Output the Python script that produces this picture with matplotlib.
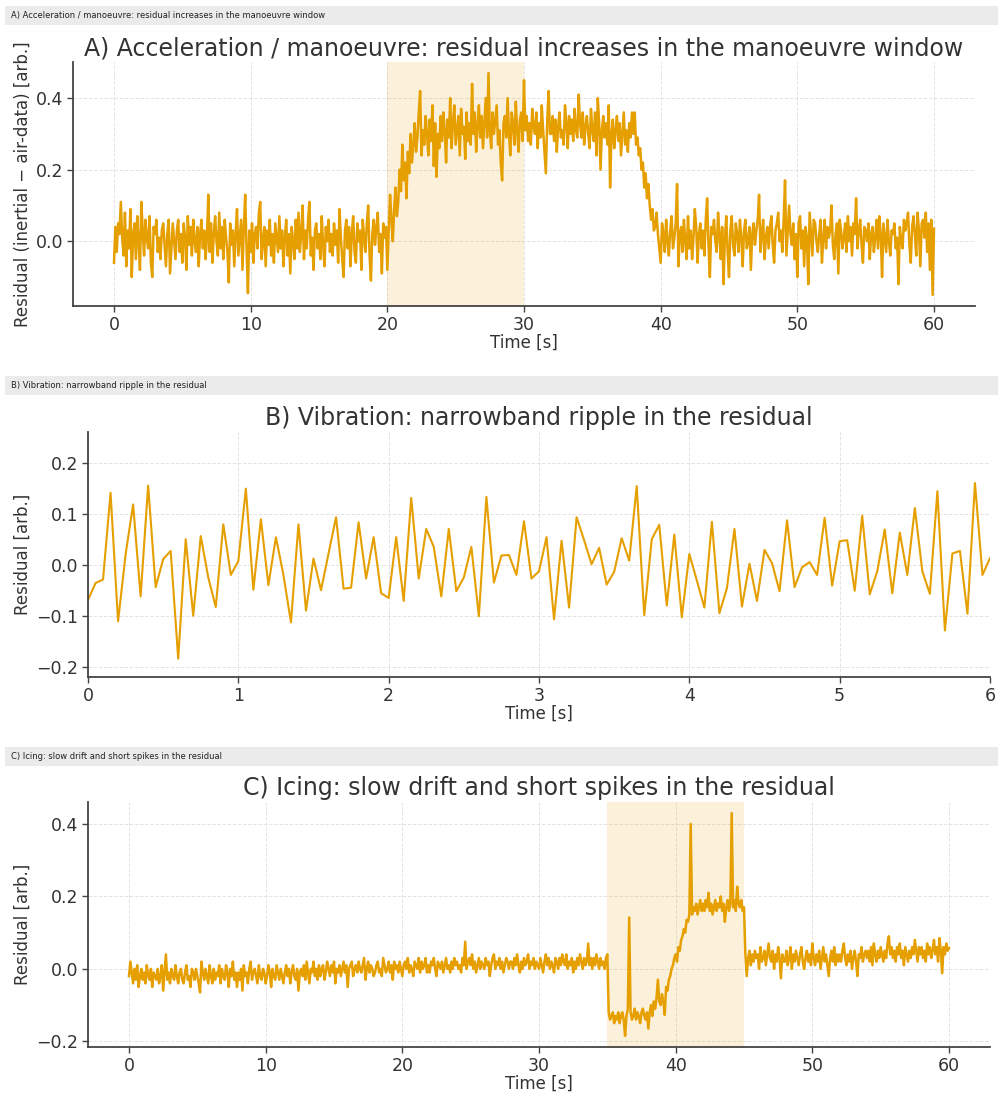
import numpy as np
import matplotlib
matplotlib.use("Agg")
import matplotlib.pyplot as plt
from matplotlib.patches import Rectangle

# ---- data ----
# panel A: 0..60 s, every 0.1 s (one row = 2 s)
res_a = [
    -0.06, 0.04, -0.03, 0.05, 0.02, 0.11, 0.01, -0.04, 0.08, -0.07, 0.03, -0.02, 0.09, -0.10, 0.02, 0.05, -0.05, 0.07, 0.00, -0.08,
    0.11, 0.03, -0.04, 0.06, 0.01, -0.02, 0.07, -0.06, -0.10, 0.04, 0.02, 0.06, -0.03, 0.01, -0.05, 0.03, 0.05, -0.01, -0.07, 0.02,
    0.06, -0.09, -0.02, 0.05, 0.00, -0.05, 0.03, 0.06, -0.03, 0.02, -0.06, 0.05, 0.01, -0.08, 0.07, -0.01, 0.04, -0.04, 0.06, 0.00,
    -0.03, 0.04, -0.07, 0.02, 0.06, -0.02, 0.03, -0.05, 0.01, 0.13, -0.03, 0.05, -0.06, 0.02, 0.07, 0.00, -0.04, 0.08, -0.02, 0.04,
    -0.05, 0.06, 0.01, -0.03, -0.115, 0.05, -0.01, 0.03, -0.07, 0.02, 0.09, -0.04, 0.01, 0.06, -0.08, 0.04, 0.13, -0.02, -0.145, 0.03,
    -0.03, 0.05, -0.06, 0.02, 0.04, -0.02, 0.08, 0.11, -0.05, 0.00, 0.04, -0.07, 0.03, -0.01, 0.06, -0.04, 0.02, -0.06, 0.05, 0.01,
    -0.03, 0.07, -0.02, 0.03, -0.07, 0.01, 0.06, -0.04, 0.02, -0.09, 0.04, 0.00, -0.05, 0.06, -0.02, 0.08, -0.03, 0.02, 0.10, -0.05,
    0.03, -0.02, 0.06, 0.11, -0.04, 0.01, -0.08, 0.03, 0.05, -0.02, 0.02, -0.05, 0.07, -0.01, -0.07, 0.04, 0.00, 0.06, -0.03, 0.02,
    -0.04, 0.05, -0.01, 0.03, -0.06, 0.09, 0.01, -0.05, -0.10, 0.03, 0.06, -0.02, 0.04, -0.07, 0.02, 0.07, -0.03, -0.06, 0.05, 0.00,
    0.03, -0.08, 0.06, 0.01, -0.03, 0.05, 0.10, -0.04, -0.11, 0.02, 0.06, -0.01, 0.04, 0.08, -0.03, 0.02, -0.09, 0.05, 0.01, 0.04,
    -0.08, 0.03, 0.13, 0.06, 0.00, 0.09, 0.15, 0.07, 0.11, 0.20, 0.14, 0.27, 0.17, 0.22, 0.12, 0.25, 0.19, 0.30, 0.22, 0.27,
    0.33, 0.25, 0.29, 0.36, 0.42, 0.24, 0.31, 0.27, 0.35, 0.30, 0.24, 0.34, 0.28, 0.38, 0.21, 0.33, 0.18, 0.30, 0.26, 0.35,
    0.28, 0.36, 0.31, 0.22, 0.34, 0.29, 0.40, 0.26, 0.33, 0.38, 0.27, 0.31, 0.35, 0.24, 0.37, 0.30, 0.32, 0.23, 0.36, 0.28,
    0.33, 0.27, 0.44, 0.30, 0.36, 0.25, 0.32, 0.38, 0.29, 0.35, 0.26, 0.33, 0.40, 0.29, 0.47, 0.31, 0.26, 0.36, 0.30, 0.34,
    0.38, 0.27, 0.31, 0.22, 0.17, 0.33, 0.35, 0.29, 0.40, 0.30, 0.24, 0.36, 0.33, 0.27, 0.39, 0.31, 0.25, 0.34, 0.36, 0.28,
    0.45, 0.31, 0.35, 0.28, 0.33, 0.27, 0.37, 0.32, 0.30, 0.36, 0.26, 0.33, 0.29, 0.38, 0.31, 0.25, 0.19, 0.34, 0.42, 0.30,
    0.30, 0.35, 0.28, 0.34, 0.25, 0.32, 0.36, 0.29, 0.31, 0.27, 0.38, 0.33, 0.26, 0.35, 0.30, 0.34, 0.28, 0.37, 0.31, 0.29,
    0.41, 0.33, 0.29, 0.36, 0.27, 0.32, 0.35, 0.30, 0.26, 0.37, 0.31, 0.28, 0.36, 0.24, 0.40, 0.33, 0.20, 0.31, 0.35, 0.29,
    0.33, 0.27, 0.38, 0.15, 0.30, 0.34, 0.26, 0.31, 0.35, 0.28, 0.33, 0.24, 0.30, 0.36, 0.27, 0.31, 0.25, 0.33, 0.29, 0.36,
    0.30, 0.36, 0.27, 0.29, 0.24, 0.26, 0.20, 0.22, 0.15, 0.19, 0.12, 0.16, 0.10, 0.06, 0.09, 0.03, 0.04, 0.08, 0.02, -0.02,
    -0.06, 0.05, 0.02, -0.03, 0.06, 0.00, -0.04, 0.03, 0.07, -0.02, 0.01, 0.05, 0.16, -0.07, 0.02, 0.04, -0.03, 0.06, 0.00, -0.05,
    0.07, -0.02, 0.03, -0.05, 0.01, 0.09, 0.04, -0.06, 0.02, 0.05, -0.02, 0.03, -0.04, 0.06, 0.12, -0.01, -0.10, 0.04, 0.02, 0.06,
    0.00, -0.03, 0.08, 0.02, -0.05, 0.04, -0.12, 0.01, 0.07, -0.03, -0.10, 0.03, 0.07, -0.01, -0.04, 0.05, 0.02, -0.03, 0.06, 0.01,
    -0.07, 0.03, 0.06, -0.02, 0.00, 0.04, -0.08, 0.02, 0.05, -0.01, 0.03, 0.06, 0.13, -0.03, 0.02, 0.06, -0.05, 0.01, 0.04, -0.02,
    0.04, 0.07, -0.01, -0.06, 0.03, 0.05, 0.08, 0.00, 0.03, -0.03, 0.06, 0.17, -0.04, 0.03, 0.10, 0.02, -0.01, 0.05, -0.05, 0.02,
    -0.10, 0.05, 0.07, -0.02, 0.03, -0.07, 0.04, 0.01, -0.12, 0.08, 0.02, -0.04, 0.06, 0.05, 0.00, -0.03, 0.02, 0.06, -0.06, 0.01,
    0.06, -0.02, 0.04, 0.01, 0.03, 0.10, -0.01, -0.05, 0.02, 0.05, -0.09, 0.06, 0.03, -0.02, 0.01, 0.05, -0.03, 0.07, 0.00, 0.04,
    -0.04, 0.05, 0.02, 0.12, -0.02, 0.03, 0.06, -0.01, -0.06, 0.04, 0.03, 0.00, 0.05, -0.05, 0.02, 0.04, -0.03, 0.01, 0.06, -0.02,
    0.07, 0.02, -0.10, 0.05, 0.01, -0.03, 0.06, 0.00, -0.04, 0.03, 0.02, 0.05, -0.02, 0.01, -0.12, 0.04, 0.00, -0.02, 0.06, 0.03,
    0.05, 0.08, -0.01, -0.06, 0.04, 0.07, 0.02, -0.04, 0.08, 0.03, -0.07, 0.05, 0.06, 0.01, 0.08, -0.03, 0.05, -0.08, 0.06, -0.15,
    0.035,
]
t_a = np.round(np.arange(len(res_a)) * 0.1, 2)
window_a = (20, 30)

# panel B: 0..6 s, every 0.05 s
res_b = [
    -0.069, -0.036, -0.029, 0.141, -0.111, 0.02, 0.118, -0.062, 0.155, -0.044,
    0.011, 0.027, -0.184, 0.050, -0.100, 0.056, -0.025, -0.083, 0.079, -0.020,
    0.007, 0.149, -0.049, 0.089, -0.040, 0.054, -0.02, -0.113, 0.079, -0.090,
    0.012, -0.050, 0.022, 0.093, -0.047, -0.045, 0.083, -0.027, 0.054, -0.056,
    -0.065, 0.054, -0.071, 0.131, -0.027, 0.070, 0.035, -0.062, 0.070, -0.052,
    -0.025, 0.035, -0.101, 0.133, -0.035, 0.018, 0.019, -0.020, 0.085, -0.027,
    -0.013, 0.054, -0.107, 0.047, -0.084, 0.093, 0.048, 0.001, 0.033, -0.039,
    -0.014, 0.052, 0.008, 0.154, -0.099, 0.050, 0.078, -0.080, 0.059, -0.103,
    0.021, -0.031, -0.084, 0.084, -0.095, -0.046, 0.070, -0.082, 0.002, -0.071,
    0.029, 0.003, -0.052, 0.087, -0.044, -0.005, 0.005, -0.020, 0.092, -0.041,
    0.046, 0.048, -0.051, 0.096, -0.058, -0.013, 0.069, -0.056, 0.063, -0.020,
    0.111, -0.013, -0.057, 0.144, -0.129, 0.022, 0.027, -0.096, 0.160, -0.020,
    0.013,
]
t_b = np.round(np.arange(len(res_b)) * 0.05, 2)

# panel C: 0..60 s, every 0.1 s (one row = 2 s)
res_c = [
    -0.02, 0.02, -0.01, -0.04, 0.00, -0.03, 0.01, -0.05, -0.02, 0.00, -0.03, -0.01, -0.04, 0.01, -0.02, -0.03, 0.00, -0.05, -0.01, -0.02,
    -0.03, 0.00, -0.04, -0.02, 0.01, -0.06, -0.01, 0.04, -0.03, -0.01, -0.04, 0.00, -0.02, -0.03, 0.01, -0.02, -0.04, -0.01, 0.00, -0.03,
    -0.04, -0.01, 0.01, -0.03, -0.02, -0.05, 0.00, -0.01, -0.03, 0.00, -0.02, -0.04, -0.065, 0.02, -0.01, -0.03, 0.00, -0.02, -0.04, 0.01,
    -0.02, -0.04, 0.00, -0.03, -0.01, -0.02, 0.01, -0.04, 0.00, -0.02, -0.03, 0.01, -0.01, -0.05, 0.00, -0.02, 0.02, -0.03, -0.01, -0.05,
    -0.01, -0.03, 0.00, -0.06, 0.01, -0.02, -0.01, -0.04, 0.00, 0.02, -0.03, -0.01, 0.00, -0.02, -0.04, 0.01, -0.02, -0.03, 0.00, -0.01,
    -0.04, -0.02, 0.01, -0.01, -0.05, 0.00, -0.02, -0.03, 0.01, -0.01, -0.03, 0.00, -0.02, -0.04, -0.01, 0.01, -0.02, 0.00, -0.04, -0.01,
    0.01, -0.02, -0.03, 0.00, -0.06, -0.01, 0.00, -0.02, 0.01, -0.03, 0.02, -0.01, -0.04, 0.00, -0.01, 0.02, -0.02, 0.00, -0.03, 0.01,
    -0.02, 0.00, 0.01, -0.03, -0.01, 0.02, 0.00, -0.02, 0.01, -0.01, 0.02, -0.04, 0.00, -0.01, 0.01, -0.02, 0.00, 0.02, -0.01, 0.01,
    -0.05, 0.00, 0.01, 0.02, -0.02, 0.00, 0.01, -0.01, 0.02, 0.00, -0.01, 0.01, 0.03, -0.03, 0.00, 0.02, -0.01, 0.01, 0.00, -0.02,
    -0.01, 0.01, 0.02, -0.01, 0.00, -0.02, 0.03, 0.01, -0.01, 0.00, 0.02, -0.01, 0.01, -0.03, 0.02, 0.00, 0.01, -0.01, 0.02, 0.00,
    -0.02, 0.01, 0.02, 0.00, 0.03, -0.01, 0.01, 0.00, -0.02, 0.02, 0.01, 0.00, 0.03, -0.01, 0.02, 0.00, 0.01, 0.03, -0.01, 0.01,
    -0.01, 0.02, 0.01, 0.03, 0.00, -0.02, 0.02, 0.01, 0.00, 0.02, -0.01, 0.01, 0.03, 0.00, 0.01, -0.01, 0.02, 0.00, 0.03, 0.01,
    0.02, 0.00, 0.01, -0.01, 0.03, 0.01, 0.075, 0.00, 0.02, 0.03, 0.01, 0.04, 0.00, 0.02, -0.01, 0.01, 0.03, 0.00, 0.02, 0.01,
    0.00, 0.03, 0.01, 0.02, -0.02, 0.01, 0.03, 0.04, 0.00, 0.02, 0.01, 0.03, 0.00, 0.02, -0.01, 0.01, 0.03, 0.02, 0.00, 0.02,
    0.02, 0.00, 0.03, 0.01, 0.04, 0.01, -0.01, 0.02, 0.00, 0.03, 0.01, 0.02, 0.04, 0.00, 0.02, 0.01, 0.03, 0.00, 0.02, 0.01,
    0.00, 0.03, 0.01, -0.01, 0.02, 0.04, 0.01, 0.03, 0.00, 0.02, 0.01, -0.01, 0.03, 0.02, 0.00, 0.03, 0.01, 0.04, 0.02, 0.01,
    0.04, 0.00, 0.02, 0.01, 0.03, -0.01, 0.02, 0.00, 0.03, 0.01, 0.04, 0.02, 0.00, 0.03, 0.01, 0.02, 0.07, 0.01, 0.03, 0.00,
    0.03, 0.01, 0.04, 0.02, 0.00, 0.03, 0.01, 0.02, 0.00, 0.03, 0.04, -0.12, -0.14, -0.13, -0.12, -0.15, -0.13, -0.14, -0.12, -0.15,
    -0.13, -0.12, -0.14, -0.185, -0.13, -0.11, 0.142, -0.12, -0.14, -0.13, -0.11, -0.14, -0.12, -0.13, -0.15, -0.12, -0.11, -0.13, -0.14, -0.12,
    -0.165, -0.12, -0.10, -0.13, -0.09, -0.11, -0.08, -0.03, -0.09, -0.10, -0.07, -0.09, -0.127, -0.05, -0.06, -0.03, -0.02, 0.00, 0.01, 0.03,
    0.04, 0.02, 0.06, 0.05, 0.08, 0.09, 0.11, 0.10, 0.135, 0.13, 0.15, 0.40, 0.15, 0.17, 0.16, 0.18, 0.15, 0.17, 0.19, 0.16,
    0.18, 0.16, 0.19, 0.17, 0.21, 0.16, 0.18, 0.15, 0.17, 0.19, 0.16, 0.18, 0.17, 0.20, 0.16, 0.18, 0.13, 0.17, 0.19, 0.16,
    0.18, 0.43, 0.17, 0.19, 0.16, 0.227, 0.18, 0.17, 0.19, 0.16, 0.17, 0.04, -0.02, 0.03, 0.05, 0.01, 0.04, 0.02, 0.05, 0.03,
    0.04, 0.00, 0.06, 0.02, 0.03, 0.05, 0.01, 0.04, 0.07, 0.03, 0.02, 0.05, 0.00, 0.04, 0.02, 0.06, 0.03, -0.026, 0.04, 0.02,
    0.02, 0.05, 0.01, 0.03, 0.06, 0.00, 0.04, 0.02, 0.05, 0.03, 0.01, 0.04, 0.06, 0.02, 0.00, 0.03, 0.05, 0.02, 0.04, 0.01,
    0.07, 0.03, 0.01, 0.04, 0.02, 0.05, 0.00, 0.03, 0.06, 0.02, 0.04, 0.01, -0.02, 0.03, 0.05, 0.02, 0.06, 0.01, 0.04, 0.02,
    0.04, 0.02, 0.05, 0.07, 0.03, 0.01, 0.04, 0.02, 0.05, 0.00, 0.03, 0.05, 0.02, -0.02, 0.04, 0.03, 0.06, 0.02, 0.04, 0.05,
    0.03, 0.05, 0.02, 0.06, 0.01, 0.07, 0.04, 0.02, 0.05, 0.03, 0.06, 0.04, 0.02, 0.05, 0.03, 0.07, 0.09, 0.04, 0.06, 0.03,
    0.05, 0.02, 0.06, 0.04, 0.07, 0.03, 0.05, 0.01, 0.06, 0.04, 0.02, 0.05, 0.03, 0.06, 0.04, 0.08, 0.05, 0.02, 0.06, 0.04,
    0.06, 0.03, 0.05, 0.02, 0.07, 0.04, 0.06, 0.03, 0.05, 0.08, 0.04, 0.06, 0.02, 0.085, 0.05, -0.012, 0.06, 0.04, 0.07, 0.05,
    0.057,
]
t_c = np.round(np.arange(len(res_c)) * 0.1, 2)
window_c = (35, 45)

assert len(res_a) == 601 and len(res_c) == 601 and len(res_b) == 121, (len(res_a), len(res_b), len(res_c))

headers = [
    "A) Acceleration / manoeuvre: residual increases in the manoeuvre window",
    "B) Vibration: narrowband ripple in the residual",
    "C) Icing: slow drift and short spikes in the residual",
]
titles = headers
ylabels = ["Residual (inertial \u2212 air-data) [arb.]", "Residual [arb.]", "Residual [arb.]"]

LINE = "#E69F00"
TXT = "#333333"

plt.rcParams.update({
    "font.family": "DejaVu Sans",
    "font.size": 12,
    "axes.edgecolor": "#444444",
    "axes.linewidth": 1.3,
    "xtick.color": "#444444",
    "ytick.color": "#444444",
    "xtick.labelcolor": TXT,
    "ytick.labelcolor": TXT,
    "xtick.labelsize": 12.5,
    "ytick.labelsize": 12.5,
})

W, H = 998, 1093
fig = plt.figure(figsize=(W / 100, H / 100), dpi=100)


def fx(px):
    return px / W


def fy(py):
    return 1 - py / H


# grey header strips
for txt, (y0, y1) in zip(headers, [(6, 25), (376, 395), (747, 766)]):
    fig.patches.append(Rectangle((fx(5), fy(y1)), 1 - fx(5), (y1 - y0) / H,
                                 transform=fig.transFigure, facecolor="#EBEBEB",
                                 edgecolor="none", zorder=0))
    fig.text(fx(11), fy((y0 + y1) / 2), txt, fontsize=6, color="#222222",
             va="center", ha="left")

ax_a = fig.add_axes([fx(73), fy(306), fx(975) - fx(73), fy(62) - fy(306)])
ax_b = fig.add_axes([fx(88), fy(677), fx(990) - fx(88), fy(432) - fy(677)])
ax_c = fig.add_axes([fx(88), fy(1047), fx(990) - fx(88), fy(802) - fy(1047)])


def style(ax, title, ylabel):
    ax.set_title(title, fontsize=17, color=TXT, pad=5)
    ax.set_xlabel("Time [s]", color=TXT, labelpad=0)
    ax.set_ylabel(ylabel, color=TXT, labelpad=3)
    ax.spines["top"].set_visible(False)
    ax.spines["right"].set_visible(False)
    ax.grid(True, linestyle="--", linewidth=0.7, color="#DDDDDD", alpha=0.8)
    ax.set_axisbelow(True)
    ax.tick_params(direction="out", length=4, width=1, pad=3)


ax_a.axvspan(*window_a, color=LINE, alpha=0.15, linewidth=0)
ax_a.plot(t_a, res_a, color=LINE, linewidth=1.8)
ax_a.set_xticks([0, 10, 20, 30, 40, 50, 60])
ax_a.set_yticks([0.0, 0.2, 0.4])
style(ax_a, titles[0], ylabels[0])

ax_b.plot(t_b, res_b, color=LINE, linewidth=1.5)
ax_b.set_xlim(0, 6)
ax_b.set_ylim(-0.22, 0.26)
ax_b.set_yticks([-0.2, -0.1, 0.0, 0.1, 0.2])
style(ax_b, titles[1], ylabels[1])

ax_c.axvspan(*window_c, color=LINE, alpha=0.15, linewidth=0)
ax_c.plot(t_c, res_c, color=LINE, linewidth=1.8)
ax_c.set_xticks([0, 10, 20, 30, 40, 50, 60])
ax_c.set_yticks([-0.2, 0.0, 0.2, 0.4])
style(ax_c, titles[2], ylabels[2])

fig.savefig("out.png", dpi=100)
